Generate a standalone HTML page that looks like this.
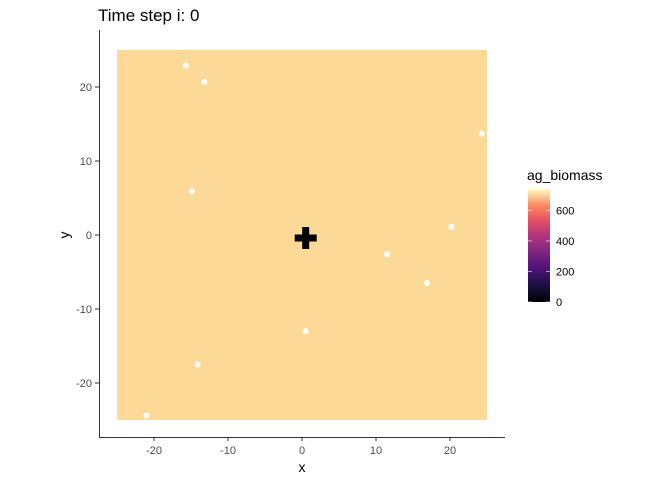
<!DOCTYPE html>
<html><head><meta charset="utf-8"><style>
body{margin:0;background:#fff;font-family:"Liberation Sans",sans-serif}
svg text{font-family:"Liberation Sans",sans-serif}
</style></head><body>
<svg id="c" width="672" height="480" xmlns="http://www.w3.org/2000/svg">
<defs><linearGradient id="mg" x1="0" y1="1" x2="0" y2="0">
<stop offset="0" stop-color="#000004"/><stop offset="0.15" stop-color="#1c1044"/><stop offset="0.3" stop-color="#4f127b"/><stop offset="0.45" stop-color="#812581"/><stop offset="0.6" stop-color="#b5367a"/><stop offset="0.72" stop-color="#e55064"/><stop offset="0.85" stop-color="#fb8761"/><stop offset="1" stop-color="#fcfdbf"/>
</linearGradient></defs>
<text x="98" y="21" font-size="17" fill="#000">Time step i: 0</text>
<g id="plot"></g>
<line x1="99.5" y1="30" x2="99.5" y2="437.5" stroke="#333" stroke-width="1"/>
<line x1="99" y1="437.5" x2="505" y2="437.5" stroke="#333" stroke-width="1"/>
<text x="302" y="472" font-size="14" text-anchor="middle">x</text>
<text x="69" y="235" font-size="14" text-anchor="middle" transform="rotate(-90 69 235)">y</text>
<text x="527" y="180" font-size="14">ag_biomass</text>
<rect x="528" y="189" width="22" height="113" fill="url(#mg)"/>
<g id="leg"></g>
</svg>
<script>
const xTicks=[-20,-10,0,10,20];
const yTicks=[-20,-10,0,10,20];
const ptX=[-15.7,-13.2,24.3,-14.9,20.2,11.5,16.9,0.5,-14.1,-21];
const ptY=[22.9,20.7,13.7,5.9,1.1,-2.6,-6.5,-13,-17.5,-24.4];
const crossX=[0.5];
const crossY=[-0.4];
const legTicks=[0,200,400,600];
const legMax=740;
const sx=v=>302+7.4*v, sy=v=>235-7.4*v;
const NS="http://www.w3.org/2000/svg";
const plot=document.getElementById('plot'), leg=document.getElementById('leg');
function mk(t,a,p){const e=document.createElementNS(NS,t);for(const k in a)e.setAttribute(k,a[k]);p.appendChild(e);return e;}
let r=mk('rect',{x:sx(-25),y:sy(25),width:sx(25)-sx(-25),height:sy(-25)-sy(25),fill:'#fdd998'},plot);


xTicks.forEach(v=>{
 let l=mk('line',{x1:sx(v),x2:sx(v),y1:437,y2:441,stroke:'#333'},plot);
 
 
 let t=mk('text',{x:sx(v),y:454,'font-size':11,'text-anchor':'middle',fill:'#4d4d4d'},plot);t.textContent=v===0?'0':String(v).replace('-','\u2212').replace('\u2212','-');
 
 
});
yTicks.forEach(v=>{
 let l=mk('line',{x1:95,x2:99,y1:sy(v),y2:sy(v),stroke:'#333'},plot);
 
 
 let t=mk('text',{x:92,y:sy(v)+4,'font-size':11,'text-anchor':'end',fill:'#4d4d4d'},plot);t.textContent=String(v);
 
 
});
ptX.forEach((v,i)=>{
 let c=mk('circle',{cx:sx(v),cy:sy(ptY[i]),r:3,fill:'#fff'},plot);
 
 
});
crossX.forEach((v,i)=>{
 const cx=sx(v),cy=sy(crossY[i]);
 let p=mk('path',{d:`M${cx-3.5} ${cy-11}h7v7.5h7.5v7h-7.5v7.5h-7v-7.5h-7.5v-7h7.5z`,fill:'#000'},plot);
 
 
});
const ly=v=>302-113*v/legMax;
legTicks.forEach(v=>{
 mk('line',{x1:528,x2:532,y1:ly(v),y2:ly(v),stroke:'#fff','stroke-opacity':0.6},leg);
 mk('line',{x1:546,x2:550,y1:ly(v),y2:ly(v),stroke:'#fff','stroke-opacity':0.6},leg);
 let t=mk('text',{x:556,y:ly(v)+4,'font-size':11,fill:'#000'},leg);t.textContent=String(v);
 
 
});
</script>
</body></html>
